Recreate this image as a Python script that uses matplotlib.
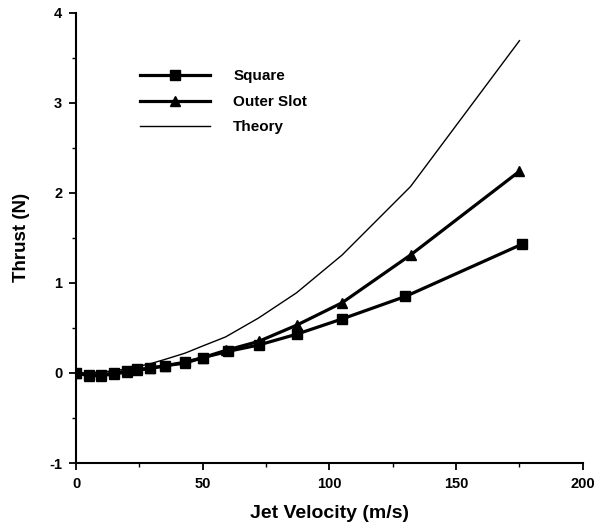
import matplotlib
matplotlib.use("Agg")
import matplotlib.pyplot as plt
from matplotlib.ticker import MultipleLocator

# Data
sq_x = [0, 5, 10, 15, 20, 24, 29, 35, 43, 50, 60, 72, 87, 105, 130, 176]
sq_y = [0.0, -0.02, -0.02, 0.0, 0.02, 0.04, 0.05, 0.08, 0.12, 0.17, 0.24, 0.31, 0.43, 0.60, 0.85, 1.43]

os_x = [0, 5, 10, 15, 20, 24, 29, 35, 43, 50, 59, 72, 87, 105, 132, 175]
os_y = [0.0, -0.03, -0.03, -0.01, 0.01, 0.03, 0.05, 0.08, 0.11, 0.17, 0.25, 0.35, 0.53, 0.78, 1.31, 2.24]

th_x = [0, 5, 10, 15, 20, 24, 29, 35, 43, 50, 59, 72, 87, 105, 132, 175]
th_y = [0.0, 0.0, 0.01, 0.025, 0.045, 0.07, 0.10, 0.15, 0.22, 0.30, 0.40, 0.61, 0.89, 1.31, 2.07, 3.69]

series_names = ["Square", "Outer Slot", "Theory"]
x_ticks = [0, 50, 100, 150, 200]
x_labels = ["0", "50", "100", "150", "200"]
y_ticks = [-1, 0, 1, 2, 3, 4]
y_labels = ["-1", "0", "1", "2", "3", "4"]

plt.rcParams['font.family'] = ['Liberation Sans', 'DejaVu Sans']
plt.rcParams['axes.unicode_minus'] = False

fig = plt.figure(figsize=(5.99, 5.31), dpi=100)
ax = fig.add_axes([0.127, 0.128, 0.846, 0.848])

ax.plot(sq_x, sq_y, color='black', lw=2.3, marker='s', ms=6.5, label=series_names[0])
ax.plot(os_x, os_y, color='black', lw=2.3, marker='^', ms=7.5, label=series_names[1])
ax.plot(th_x, th_y, color='black', lw=1.0, label=series_names[2])

ax.set_xlim(0, 200)
ax.set_ylim(-1, 4)
ax.set_xticks(x_ticks)
ax.set_xticklabels(x_labels, fontsize=10.5, fontweight='bold')
ax.set_yticks(y_ticks)
ax.set_yticklabels(y_labels, fontsize=10.5, fontweight='bold')
ax.xaxis.set_minor_locator(MultipleLocator(25))
ax.yaxis.set_minor_locator(MultipleLocator(0.5))
ax.tick_params(which='major', direction='out', length=5, width=1.3, pad=5)
ax.tick_params(which='minor', direction='out', length=3, width=1.0)

for s in ['top', 'right']:
    ax.spines[s].set_visible(False)
for s in ['left', 'bottom']:
    ax.spines[s].set_linewidth(1.5)

ax.set_xlabel("Jet Velocity (m/s)", fontsize=14, fontweight='bold', labelpad=10)
ax.set_ylabel("Thrust (N)", fontsize=13.5, fontweight='bold', labelpad=14)

leg = ax.legend(loc='upper left', bbox_to_anchor=(0.126, 0.874), frameon=False,
                borderpad=0, borderaxespad=0,
                handlelength=4.6, handletextpad=1.5, labelspacing=0.75,
                numpoints=1, prop={'size': 11, 'weight': 'bold'})

fig.savefig("out.png", dpi=100)
